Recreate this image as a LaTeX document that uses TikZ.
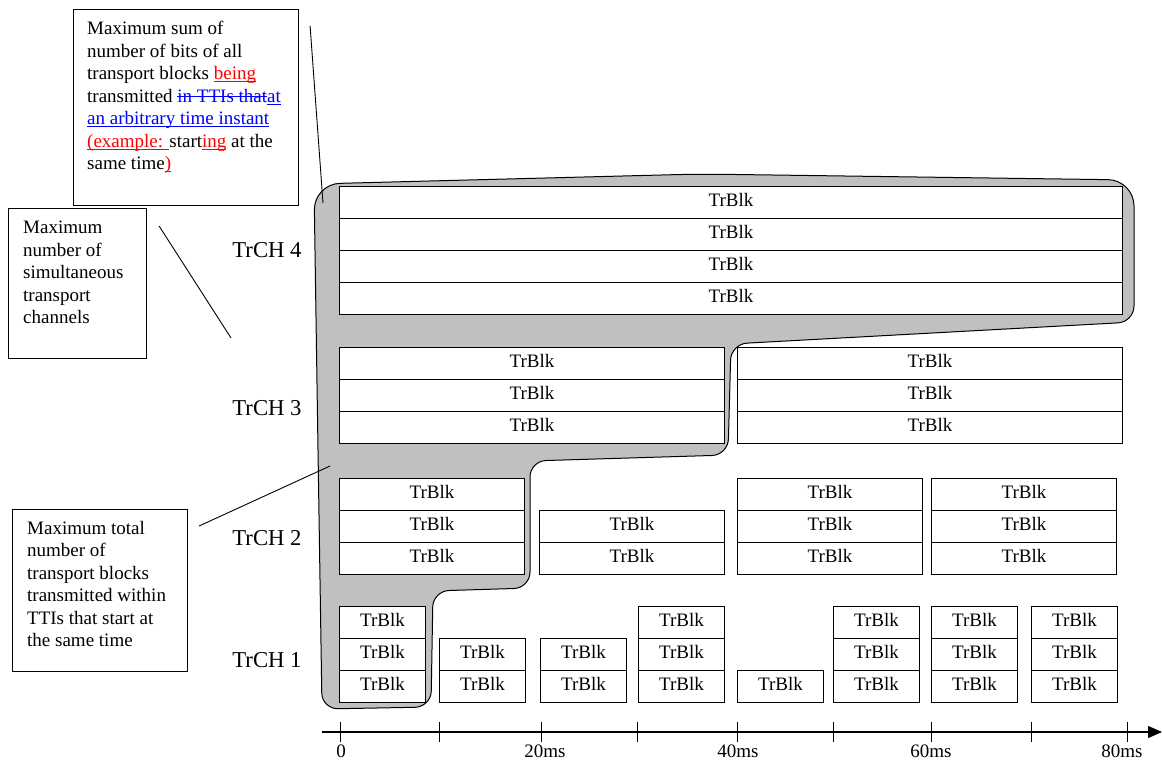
\documentclass[tikz,border=0pt]{standalone}
\usepackage{fontspec}
\setmainfont{Liberation Serif}
\usetikzlibrary{arrows.meta,positioning}
\definecolor{blobgray}{RGB}{192,192,192}
\newsavebox\mkbox
\newcommand{\undr}[1]{\sbox\mkbox{#1}\rlap{\rule[-2.6pt]{\wd\mkbox}{0.9pt}}\usebox\mkbox}
\newcommand{\strk}[1]{\sbox\mkbox{#1}\rlap{\rule[5.2pt]{\wd\mkbox}{0.9pt}}\usebox\mkbox}

\begin{document}
\begin{tikzpicture}[
    x=1pt,y=-1pt,
    blk/.style={rectangle,draw,fill=white,line width=1.1pt,anchor=north west,
                minimum height=32pt,inner sep=0pt,text depth=5pt,
                font=\fontsize{19}{22}\selectfont},
    callout/.style={rectangle,draw,line width=1.1pt,anchor=north west,inner sep=0pt},
    note/.style={align=left,inner sep=0pt,font=\fontsize{19}{22.5}\selectfont},
    chlabel/.style={font=\fontsize{22.7}{27}\selectfont},
    leader/.style={line width=0.9pt},
    >=Latex
  ]
  \useasboundingbox (0,0) rectangle (1162,760);

  % grey region round the blocks that are counted together
  \draw[fill=blobgray,line width=1pt,rounded corners=16pt]
    (318,450) [rounded corners=26pt]-- (314,184) -- (700,174) -- (1134,180)
    [rounded corners=16pt]-- (1134,322) -- (731,344)
    -- (728,455) -- (530,461) -- (530,588) -- (433,591) -- (431,707) -- (322,709) -- cycle;

  % TrCH 4
  \foreach \r in {1,...,4}
    \node[blk,minimum width=783pt] (c4-\r) at (339,{186+32*(\r-1)}) {TrBlk};

  % TrCH 3
  \foreach \x [count=\i] in {339,737}
    \foreach \r in {1,2,3}
      \node[blk,minimum width=385pt] (c3-\i-\r) at (\x,{347+32*(\r-1)}) {TrBlk};

  % TrCH 2 (x / rows), stacked up from the bottom edge
  \foreach \x/\n [count=\i] in {339/3,539/2,737/3,931/3}
    \foreach \r in {1,...,\n}
      \node[blk,minimum width=185pt] (c2-\i-\r) at (\x,{574-32*\r}) {TrBlk};

  % TrCH 1
  \foreach \x/\n [count=\i] in {339/3,439/2,540/2,638/3,737/1,833/3,931/3,1031/3}
    \foreach \r in {1,...,\n}
      \node[blk,minimum width=86pt] (c1-\i-\r) at (\x,{702-32*\r}) {TrBlk};

  % channel labels
  \node[chlabel] (ch4) at (267,250) {TrCH 4};
  \node[chlabel] (ch3) at (267,408) {TrCH 3};
  \node[chlabel] (ch2) at (267,538) {TrCH 2};
  \node[chlabel] (ch1) at (267,660) {TrCH 1};

  % callout boxes
  \node[callout,minimum width=225pt,minimum height=196pt] (sumbox) at (73,9) {};
  \node[note,below right=12pt and 14pt of sumbox.north west] (sumtxt)
    {Maximum sum of\\
     number of bits of all\\
     transport blocks \textcolor{red}{\undr{being}}\\
     transmitted \textcolor{blue}{\strk{in TTIs that}\undr{at}}\\
     \textcolor{blue}{\undr{an arbitrary time instant}}\\
     \textcolor{red}{\undr{(example: }}start\textcolor{red}{\undr{ing}} at the\\
     same time\textcolor{red}{\undr{)}}};

  \node[callout,minimum width=138pt,minimum height=150pt] (simbox) at (8,208) {};
  \node[note,below right=13pt and 15pt of simbox.north west] (simtxt)
    {Maximum\\number of\\simultaneous\\transport\\channels};

  \node[callout,minimum width=175pt,minimum height=162pt] (totbox) at (12,509) {};
  \node[note,below right=12pt and 15pt of totbox.north west] (tottxt)
    {Maximum total\\number of\\transport blocks\\transmitted within\\TTIs that start at\\the same time};

  % leader lines
  \coordinate (sumtip) at (323,203);
  \coordinate (simtip) at (231,338);
  \coordinate (tottip) at (330,466);
  \draw[leader] ([xshift=11pt,yshift=-17pt]sumbox.north east) -- (sumtip);
  \draw[leader] ([xshift=12pt,yshift=-18pt]simbox.north east) -- (simtip);
  \draw[leader] ([xshift=11pt,yshift=-17pt]totbox.north east) -- (tottip);

  % time axis
  \coordinate (ax0) at (322,732);
  \coordinate (ax1) at (1162,732);
  \draw[line width=1.1pt,-{Triangle[length=14pt,width=12pt]}] (ax0) -- (ax1);
  \foreach \x in {340,439,541,637,737,833,931,1031,1127}
    \draw[line width=0.9pt] (\x,722) -- (\x,742);
  \foreach \x/\t in {341/0,545/20ms,738/40ms,931/60ms,1122/80ms}
    \node[font=\fontsize{19}{22}\selectfont] (t\t) at (\x,751) {\t};
\end{tikzpicture}
\end{document}
